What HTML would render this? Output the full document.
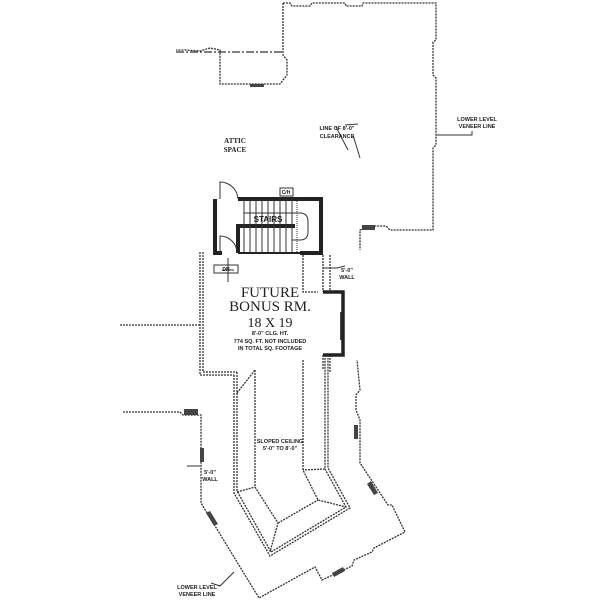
<!DOCTYPE html>
<html><head><style>html,body{margin:0;padding:0;background:#fff}svg{display:block}
text{font-family:"Liberation Sans",sans-serif;fill:#222;text-anchor:middle}</style></head>
<body>
<svg width="600" height="600" viewBox="0 0 600 600" xmlns="http://www.w3.org/2000/svg">
<g fill="none" stroke="#333" stroke-width="1.3" stroke-dasharray="2 1">
<path d="M283,3 L290,3 L292,6 L310,6 L312,3 L345,3 L346,6 L362,6 L363,3 L436,3 L436,40 L433,42 L433,75 L436,78 L436,145 L433,148 L433,230 L390,230 L386,226 L375,226 L360,230 L360,250"/>
<path d="M283,3 L283,55 L287,60 L287,75 L283,80 L280,84 L220,84 L220,50 L210,48 L200,51 L186,50 L176,50"/>
<path d="M176,52 L283,52" stroke-dasharray="8 2 2 2"/>
<path d="M203,252 L203,372 L237,372"/>
<path d="M200,252 L200,375 L234,375"/>
<path d="M323,255 L323,292"/><path d="M330,255 L330,292"/>
<path d="M323,355 L323,370"/><path d="M330,355 L330,372"/>
<path d="M303,255 L303,292 L318,292"/>
<path d="M120,325 L200,325"/>
<path d="M234,375 L234,493 L270,556 L350,508 L328,468 L328,358"/>
<path d="M237,372 L237,491 L271,552 L346,507 L325,469 L325,358"/>
<path d="M255,370 L255,487 L278,523 L270,552"/>
<path d="M303,360 L303,470 L318,500 L346,507"/>
<path d="M278,523 L318,500"/>
<path d="M237,393 L255,370"/>
<path d="M237,492 L255,487"/><path d="M325,469 L303,470"/>
<path d="M123,412 L180,412 L183,415 L201,415 L201,503 L259,598 L315,567 L322,580 L352,566 L354,560 L372,552 L374,548 L405,532 L392,505 L388,505 L360,463 L360,420 L356,410 L356,395 L360,390 L357,360"/>
</g>
<g fill="#444">
<rect x="250" y="84" width="14" height="3"/>
<rect x="362" y="225" width="13" height="5"/>
<rect x="184" y="409" width="14" height="6"/>
<rect x="200" y="448" width="4" height="14"/>
<rect x="354" y="425" width="4" height="14"/>
<rect x="340" y="312" width="4" height="28"/>
<polygon points="206,513 210,511 218,524 214,526"/>
<polygon points="367,484 371,481 378,493 374,495"/>
<polygon points="332,573 343,567 345,571 334,577"/>
</g>
<g stroke="#222" stroke-width="4" fill="none">
<path d="M238,199 L321,199 L321,253 L300,253"/>
<path d="M215,199 L215,253 L222,253"/>
<path d="M238,253 L238,226 L295,226"/>
<path d="M238,253 L300,253" stroke-width="2"/>
<path d="M323,292 L343,292 L343,355 L323,355" stroke-width="3.5"/>
</g>
<g stroke="#333" stroke-width="1" fill="none">
<path d="M220,199 L220,182 A18,18 0 0 1 238,199"/>
<path d="M220,253 L220,236 A17,17 0 0 1 237,253"/>
<path d="M244,199 V226 M250,199 V253 M256,199 V253 M262,199 V253 M268,199 V253 M274,199 V253 M280,199 V253 M286,199 V253 M292,199 V253 M244,226 V253"/>
<path d="M244,213 L296,213"/>
<path d="M296,213 L300,213 Q308,213 308,222 L308,232 Q308,240 300,240 L292,240"/>
<path d="M297,199 V253" stroke-dasharray="1 1"/>
<rect x="280" y="188" width="13" height="8"/>
<rect x="214" y="265" width="24" height="8"/>
<path d="M228,258 L228,282 M222,270 L234,270"/>
<path d="M336,127 L348,150 M345,125 L358,124 M353,135 L360,158"/>
<path d="M323,268 L337,268 L345,266 M200,466 L187,466 M211,583 L220,586 L234,572"/>
<path d="M436,135 L472,135 L472,131"/>
</g>
<g font-size="5" font-weight="bold">
<text x="286" y="194">C/H</text>
<text x="226" y="271">DN</text>
<text x="268" y="222" font-size="8">STAIRS</text>
</g>
<g>
<text x="270" y="297" font-size="15" style="font-family:'Liberation Serif',serif">FUTURE</text>
<text x="270" y="311" font-size="15" style="font-family:'Liberation Serif',serif">BONUS RM.</text>
<text x="270" y="327" font-size="14" style="font-family:'Liberation Serif',serif">18 X 19</text>
</g>
<g font-size="5.5" font-weight="bold">
<text x="270" y="335">8'-0" CLG. HT.</text>
<text x="270" y="343">774 SQ. FT. NOT INCLUDED</text>
<text x="270" y="350">IN TOTAL SQ. FOOTAGE</text>
<text x="235" y="143" font-size="7" style="font-family:'Liberation Serif',serif">ATTIC</text>
<text x="235" y="152" font-size="7" style="font-family:'Liberation Serif',serif">SPACE</text>
<text x="337" y="130">LINE OF 8'-0"</text>
<text x="337" y="138">CLEARANCE</text>
<text x="477" y="121">LOWER LEVEL</text>
<text x="477" y="128">VENEER LINE</text>
<text x="347" y="272">5'-0"</text>
<text x="347" y="279">WALL</text>
<text x="280" y="443">SLOPED CEILING</text>
<text x="280" y="450">5'-0" TO 8'-0"</text>
<text x="210" y="474">5'-0"</text>
<text x="210" y="481">WALL</text>
<text x="197" y="589">LOWER LEVEL</text>
<text x="197" y="596">VENEER LINE</text>
</g>
</svg>
</body></html>
